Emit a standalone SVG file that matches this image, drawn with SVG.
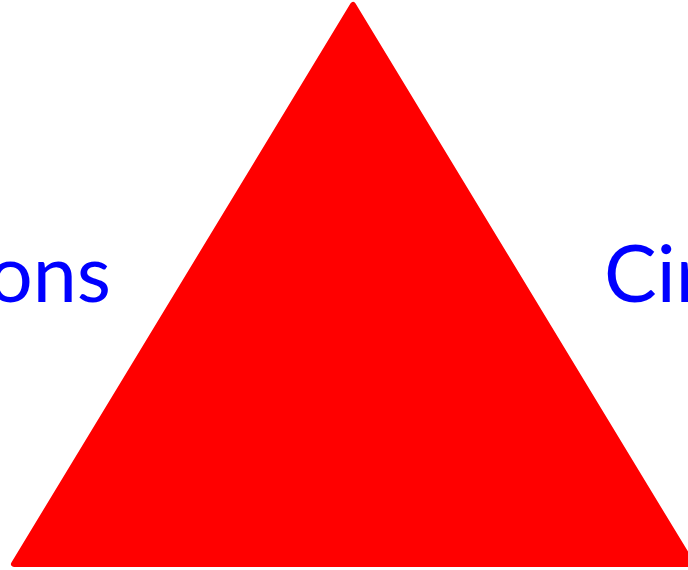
<svg xmlns="http://www.w3.org/2000/svg" width="688" height="570" viewBox="0 0 688 570">
<style>
.lbl{font-family:Lato,"Open Sans","Liberation Sans",sans-serif;font-size:79px;fill:#0000FF}
</style>
<rect width="688" height="570" fill="#FFFFFF"/>
<g id="triangle">
<polygon points="353,5 14,564 692,564" fill="#FF0000" stroke="#FF0000" stroke-width="6" stroke-linejoin="round"/>
</g>
<g id="label-left"><text class="lbl" x="111" y="302" text-anchor="end">ons</text></g>
<g id="label-right"><text class="lbl" x="604" y="302">Cir</text></g>
</svg>
